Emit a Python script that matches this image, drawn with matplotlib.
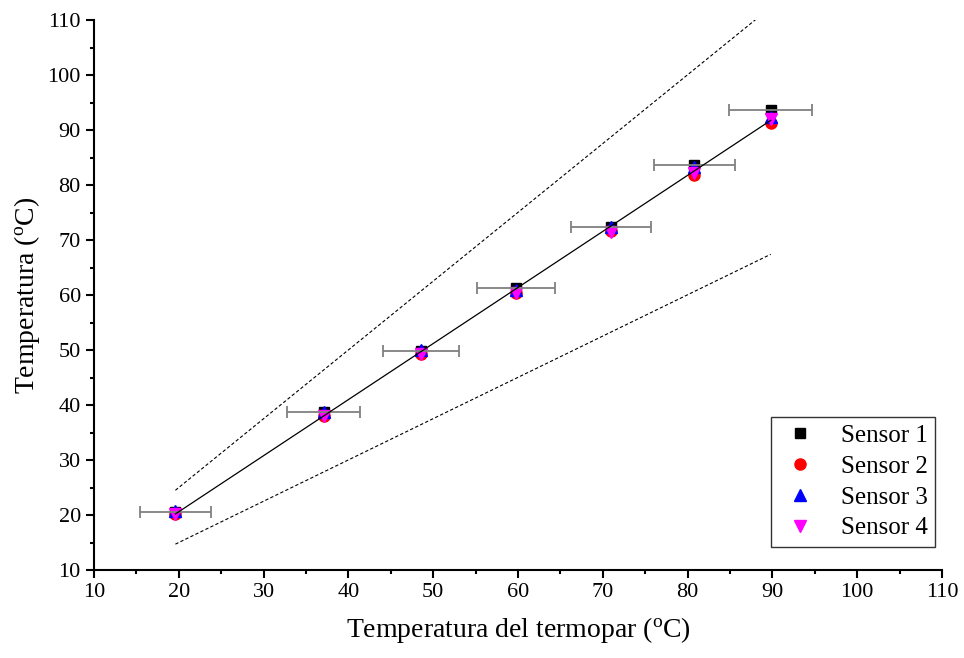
import numpy as np
import matplotlib.pyplot as plt
from matplotlib.ticker import MultipleLocator

# Thermocouple reference temperatures and sensor readings
termopar = [19.6, 37.1, 48.6, 59.8, 71.0, 80.8, 89.8]
x_err = [4.2, 4.3, 4.5, 4.6, 4.7, 4.8, 4.9]
sensor1 = [20.5, 38.8, 49.8, 61.2, 72.3, 83.6, 93.7]
sensor2 = [20.2, 38.0, 49.2, 60.3, 71.6, 81.9, 91.2]
sensor3 = [20.7, 38.7, 50.0, 61.0, 72.4, 83.2, 92.4]
sensor4 = [20.1, 38.0, 49.3, 60.3, 71.5, 82.2, 92.0]

# +/-25 % band endpoints
band_x = [19.6, 89.8]
band_upper = [24.5, 112.3]
band_lower = [14.7, 67.4]

plt.rcParams['font.family'] = ['Liberation Serif', 'DejaVu Serif']

fig = plt.figure(figsize=(9.64, 6.58), dpi=100)
ax = fig.add_axes([94 / 964, 88 / 658, 848 / 964, 550 / 658])

# Markers
ax.plot(termopar, sensor1, 's', color='black', ms=7.5, label='Sensor 1', zorder=3)
ax.plot(termopar, sensor2, 'o', color='red', ms=8, label='Sensor 2', zorder=3)
ax.plot(termopar, sensor3, '^', color='blue', ms=8.5, label='Sensor 3', zorder=3)
ax.plot(termopar, sensor4, 'v', color='magenta', ms=8.5, label='Sensor 4', zorder=3)

# Horizontal error bars
ax.errorbar(termopar, sensor1, xerr=x_err, fmt='none', ecolor='#808080',
            elinewidth=1.3, capsize=4, capthick=1.3, zorder=4)

# Linear fit through the mean of the sensors
mean_vals = np.mean([sensor1, sensor2, sensor3, sensor4], axis=0)
coef = np.polyfit(termopar, mean_vals, 1)
fx = np.array([termopar[0], termopar[-1]])
ax.plot(fx, np.polyval(coef, fx), color='black', lw=0.9, zorder=5)

# Confidence band
ax.plot(band_x, band_upper, ls=(0, (3, 2)), color='black', lw=0.8)
ax.plot(band_x, band_lower, ls=(0, (3, 2)), color='black', lw=0.8)

ax.set_xlim(10, 110)
ax.set_ylim(10, 110)
ax.xaxis.set_major_locator(MultipleLocator(10))
ax.yaxis.set_major_locator(MultipleLocator(10))
ax.xaxis.set_minor_locator(MultipleLocator(5))
ax.yaxis.set_minor_locator(MultipleLocator(5))

ax.spines['top'].set_visible(False)
ax.spines['right'].set_visible(False)
ax.spines['left'].set_linewidth(1.5)
ax.spines['bottom'].set_linewidth(1.5)
ax.tick_params(which='major', direction='out', length=6, width=1.5, labelsize=16)
ax.tick_params(which='minor', direction='out', length=3, width=1.5)

ax.set_xlabel('Temperatura del termopar ($\\mathregular{^oC}$)', fontsize=20, labelpad=9)
ax.set_ylabel('Temperatura ($\\mathregular{^oC}$)', fontsize=20, labelpad=4)

leg = ax.legend(loc='lower right', bbox_to_anchor=(0.992, 0.042), fontsize=18,
                frameon=True, fancybox=False, edgecolor='black',
                handletextpad=0.8, labelspacing=0.33, borderpad=0.3,
                handlelength=1.7, borderaxespad=0)
leg.get_frame().set_linewidth(1.0)

plt.savefig('out.png', dpi=100)
